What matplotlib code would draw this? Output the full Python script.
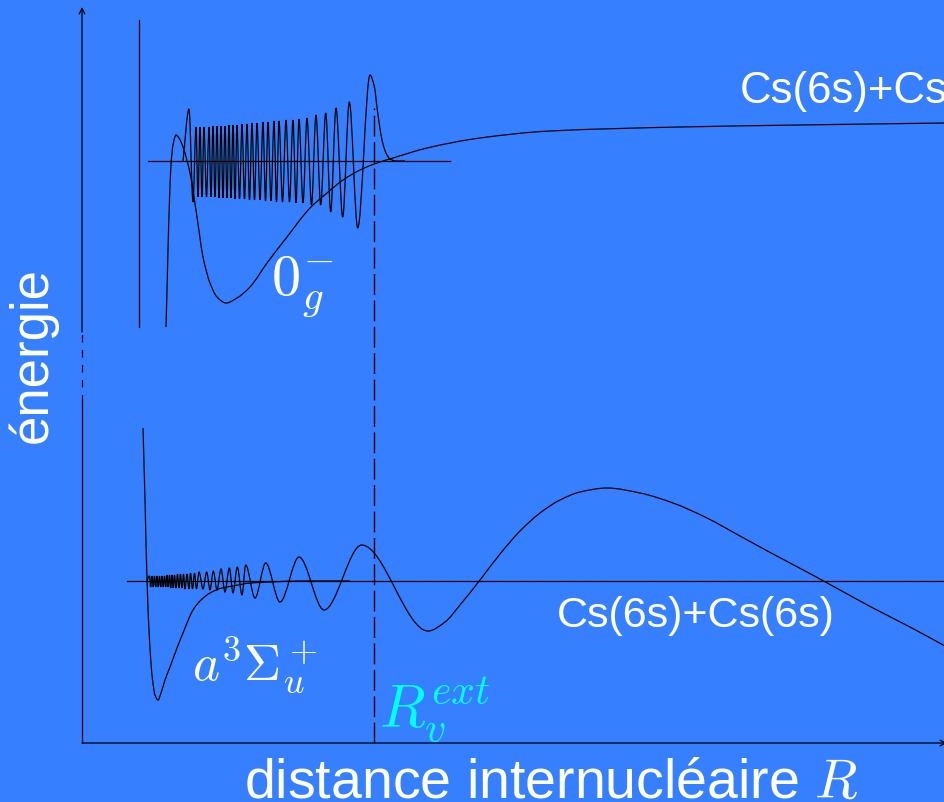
import numpy as np
import matplotlib
matplotlib.use('Agg')
import matplotlib.pyplot as plt
from matplotlib.path import Path
from matplotlib.patches import PathPatch

# schematic units: R to the right, energy E upwards (arbitrary units)

# upper potential 0g- (double well)
up_pot_R = [166, 167, 168, 169.5, 171, 173, 176, 179, 183, 190, 197, 203, 210, 217, 226,
            237, 250, 267, 287, 310, 327, 343, 360, 377, 393, 427, 480, 550, 680, 800, 945]
up_pot_E = [475, 512, 552, 602, 637, 657, 667, 664, 655, 629, 585, 545, 519, 505, 499,
            504, 515, 539, 565, 594, 609, 622, 632, 639, 644, 654, 664, 671, 675, 677, 679]

# lower potential a3Sigma_u+
lo_pot_R = [143, 145, 147, 149.5, 152, 155, 158, 161, 165, 170, 177, 183, 193, 200, 210,
            222, 233, 250, 270, 300, 350]
lo_pot_E = [374, 302, 222, 162, 127, 107, 102, 109, 122, 135, 154, 169, 192, 201, 209,
            214, 216, 219, 220, 221, 221]

# vibrational level energies and range of the level lines
up_level = 641
up_level_R = [148, 450]
lo_level = 221
lo_level_R = [127, 945]

# upper wavefunction (extrema + tail), drawn on top of its level
up_psi_R = [183, 189, 193, 196, 198, 200, 202, 204, 206.5, 209, 211, 213, 215, 217, 219,
            221, 223, 225, 227, 229, 231, 233, 235, 237, 239.5, 242, 244.5, 247, 249.5,
            252, 254.5, 257, 260, 263, 265.5, 268, 271, 274, 276.5, 279, 282.5, 286,
            289.5, 293, 296, 299, 303, 307, 311.5, 316, 320.7, 325.7, 330.7, 336, 342.7,
            349.3, 357.7, 370, 374, 378, 382, 386, 390, 396, 405]
up_psi_E = [641, 693, 600, 675, 605, 675, 605, 675, 605, 675, 605, 676, 605, 676, 604,
            676, 604, 676, 604, 677, 604, 677, 603, 677, 603, 678, 603, 678, 602,
            679, 602, 679, 602, 680, 601, 680, 601, 681, 600, 681, 600, 682,
            600, 682, 599, 683, 599, 684, 597, 687, 597, 689, 590, 694, 585,
            700, 574, 727, 717, 687, 662, 649, 643, 641, 641]

# lower wavefunction (extrema + last lobe)
lo_psi_R = [147, 149.5, 150.7, 152, 153.2, 154.5, 155.7, 157, 158.2, 159.5, 160.7, 162,
            163.2, 164.5, 165.7, 167, 168.2, 169.5, 170.7, 172, 173.2, 174.5, 176, 177.5,
            179, 180.5, 182, 183.5, 185, 187, 189, 190.5, 192.5, 194.5, 196.5, 199, 203,
            206.7, 210, 213.3, 217, 221, 225, 229.3, 233, 237.3, 242, 245.7, 255, 265.7,
            280, 299, 324, 361.7, 428, 445, 460, 480, 500, 520, 540, 560, 580, 607,
            640, 673, 707, 740, 773, 807, 840, 873, 910, 945]
lo_psi_E = [221, 226, 215, 226, 215, 226, 215, 226, 215, 226, 215, 226,
            215, 226, 215, 227, 215, 227, 214, 227, 214, 227, 214, 228,
            214, 228, 214, 228, 213, 228, 213, 229, 213, 229, 213, 230, 213,
            230, 212, 231, 212, 233, 210, 234, 209, 235, 207, 237, 204, 239,
            200, 245, 192, 257, 171, 180, 197, 222, 248, 271, 289, 302, 310, 314,
            309, 299, 284, 266, 248, 230, 212, 194, 175, 156]

R_ext = 374
R_ext_top = 694

bg = '#3680ff'
plt.rcParams['font.family'] = ['Liberation Sans', 'DejaVu Sans']
plt.rcParams['mathtext.fontset'] = 'cm'


def smooth_path(x, y):
    # monotone cubic through the points, handed to matplotlib as Bezier pieces
    x = np.asarray(x, float)
    y = np.asarray(y, float)
    h = np.diff(x)
    d = np.diff(y) / h
    m = np.zeros_like(y)
    m[0], m[-1] = d[0], d[-1]
    for k in range(1, len(x) - 1):
        if d[k - 1] * d[k] > 0:
            w1 = 2 * h[k] + h[k - 1]
            w2 = h[k] + 2 * h[k - 1]
            m[k] = (w1 + w2) / (w1 / d[k - 1] + w2 / d[k])
    verts = [(x[0], y[0])]
    codes = [Path.MOVETO]
    for i in range(len(x) - 1):
        verts += [(x[i] + h[i] / 3, y[i] + m[i] * h[i] / 3),
                  (x[i + 1] - h[i] / 3, y[i + 1] - m[i + 1] * h[i] / 3),
                  (x[i + 1], y[i + 1])]
        codes += [Path.CURVE4] * 3
    return Path(verts, codes)


fig = plt.figure(figsize=(9.45, 8.02), dpi=100, facecolor=bg)
ax = fig.add_axes([0, 0, 1, 1])
ax.set_facecolor(bg)
ax.set_xlim(0, 945)
ax.set_ylim(0, 802)
ax.axis('off')

lw = 0.9

# axes with arrows (energy axis broken)
ax.plot([82, 82], [59, 400], color='black', lw=lw)
ax.plot([82, 82], [400, 470], color='black', lw=lw, ls=(0, (6, 6)))
ax.annotate('', xy=(82, 795), xytext=(82, 470), annotation_clip=False,
            arrowprops=dict(arrowstyle='->', color='black', lw=lw,
                            shrinkA=0, shrinkB=0))
ax.annotate('', xy=(947, 59), xytext=(82, 59), annotation_clip=False,
            arrowprops=dict(arrowstyle='->', color='black', lw=lw,
                            shrinkA=0, shrinkB=0))

# hard wall of the upper state
ax.plot([139, 139], [475, 782], color='black', lw=lw)

# potentials
for R, E in [(up_pot_R, up_pot_E), (lo_pot_R, lo_pot_E)]:
    ax.add_patch(PathPatch(smooth_path(R, E), fill=False, color='black', lw=lw))

# levels
ax.plot(up_level_R, [up_level, up_level], color='black', lw=lw)
ax.plot(lo_level_R, [lo_level, lo_level], color='black', lw=lw)

# wavefunctions
for R, E in [(up_psi_R, up_psi_E), (lo_psi_R, lo_psi_E)]:
    ax.add_patch(PathPatch(smooth_path(R, E), fill=False, color='black', lw=lw))

# outer turning point
ax.plot([R_ext, R_ext], [59, R_ext_top], color='black', lw=1.0, ls=(0, (15, 4)))

# labels
ax.text(740, 699, 'Cs(6s)+Cs(6p)', color='white', fontsize=31.5, va='baseline')
ax.text(557, 175, 'Cs(6s)+Cs(6s)', color='white', fontsize=31, va='baseline')
ax.text(271, 507, r'$0_g^{\!-}$', color='white', fontsize=42, va='baseline')
ax.text(192, 122, r'$a^3\Sigma_u^+$', color='white', fontsize=37, va='baseline')
ax.text(379, 75, r'$R_v^{ext}$', color='cyan', fontsize=43, va='baseline')
ax.text(33, 447, 'énergie', color='white', fontsize=38, rotation=90,
        ha='center', va='center')
ax.text(551, 4, r'distance internucléaire $R$', color='white', fontsize=40,
        ha='center', va='baseline')

fig.savefig('out.png', dpi=100, facecolor=bg)
